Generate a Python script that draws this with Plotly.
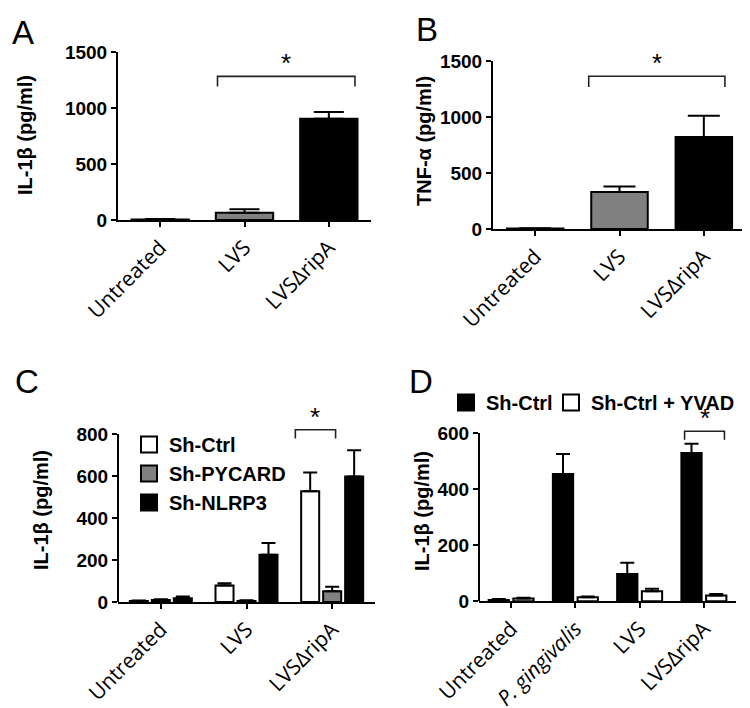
import plotly.graph_objects as go

W, H = 750, 708

# ---------------- data ----------------
cats_abc = ["Untreated", "LVS", "LVS\u0394ripA"]
cats_d = ["Untreated", "P. gingivalis", "LVS", "LVS\u0394ripA"]
ticktext_d = ["Untreated", "<i>P. gingivalis</i>", "LVS", "LVS\u0394ripA"]

a_vals = [5, 65, 905]
a_err = [3, 30, 60]
b_vals = [4, 330, 822]
b_err = [2, 50, 192]

c_ctrl = [5, 79, 527]
c_ctrl_err = [2, 10, 90]
c_pycard = [10, 5, 51]
c_pycard_err = [3, 3, 22]
c_nlrp3 = [18, 225, 598]
c_nlrp3_err = [8, 56, 125]

d_ctrl = [5, 454, 97, 529]
d_ctrl_err = [3, 71, 40, 33]
d_yvad = [10, 14, 36, 21]
d_yvad_err = [3, 3, 9, 5]

yticks_ab = [0, 500, 1000, 1500]
yticks_c = [0, 200, 400, 600, 800]
yticks_d = [0, 200, 400, 600]

# significance brackets: (x_start, x_end, top, leg_bottom) in category / data units
bracket_a = (0.68, 2.31, 1282, 1193)
bracket_b = (0.635, 2.25, 1366, 1270)
bracket_c = (1.57, 2.04, 820, 778)
bracket_d = (2.70, 3.32, 606, 576)

# ---------------- styles ----------------
GRAY = "#808080"
SANS = "Liberation Sans, Arial, sans-serif"
TICKFONT = dict(family=SANS, size=19, color="black")
XFONT = dict(family="Open Sans, sans-serif", size=21, color="black")
TITLEFONT = dict(family=SANS, size=20, color="black")
LEGFONT = dict(family=SANS, size=20, color="black")


def px_x(p):
    return p / W


def px_y(p):
    return 1 - p / H


fig = go.Figure()

bar_line = dict(color="black", width=2)

# Panel A
fig.add_trace(go.Bar(x=cats_abc, y=a_vals, width=0.68,
                     marker=dict(color=["white", GRAY, "black"], line=bar_line),
                     error_y=dict(type="data", array=a_err, arrayminus=[0] * 3, symmetric=False,
                                  color="black", thickness=2, width=15),
                     xaxis="x", yaxis="y", showlegend=False))
# Panel B
fig.add_trace(go.Bar(x=cats_abc, y=b_vals, width=0.67,
                     marker=dict(color=["white", GRAY, "black"], line=bar_line),
                     error_y=dict(type="data", array=b_err, arrayminus=[0] * 3, symmetric=False,
                                  color="black", thickness=2, width=16),
                     xaxis="x2", yaxis="y2", showlegend=False))

# Panel C
for name, vals, err, col in [("Sh-Ctrl", c_ctrl, c_ctrl_err, "white"),
                             ("Sh-PYCARD", c_pycard, c_pycard_err, GRAY),
                             ("Sh-NLRP3", c_nlrp3, c_nlrp3_err, "black")]:
    fig.add_trace(go.Bar(x=cats_abc, y=vals, name=name, offsetgroup=name,
                         marker=dict(color=col, line=bar_line),
                         error_y=dict(type="data", array=err, arrayminus=[0] * 3, symmetric=False,
                                      color="black", thickness=2, width=7),
                         xaxis="x3", yaxis="y3", showlegend=False, legendgroup="c" + name))
    fig.add_trace(go.Scatter(x=[None], y=[None], mode="markers", name=f"<b>{name}</b>",
                             marker=dict(symbol="square", size=16, color=col,
                                         line=dict(color="black", width=2)),
                             xaxis="x3", yaxis="y3", legend="legend", legendgroup="c" + name))

# Panel D
for name, vals, err, col, leg in [("Sh-Ctrl", d_ctrl, d_ctrl_err, "black", "legend2"),
                                  ("Sh-Ctrl + YVAD", d_yvad, d_yvad_err, "white", "legend3")]:
    fig.add_trace(go.Bar(x=cats_d, y=vals, name=name, offsetgroup=name,
                         marker=dict(color=col, line=bar_line),
                         error_y=dict(type="data", array=err, arrayminus=[0] * 4, symmetric=False,
                                      color="black", thickness=2, width=7),
                         xaxis="x4", yaxis="y4", showlegend=False, legendgroup="d" + name))
    fig.add_trace(go.Scatter(x=[None], y=[None], mode="markers", name=f"<b>{name}</b>",
                             marker=dict(symbol="square", size=16, color=col,
                                         line=dict(color="black", width=2)),
                             xaxis="x4", yaxis="y4", legend=leg, legendgroup="d" + name))


def xax(dom, cats, ticktext=None):
    d = dict(domain=[px_x(dom[0]), px_x(dom[1])], type="category",
             range=[-0.5, len(cats) - 0.5], showline=True, linecolor="black", linewidth=2,
             ticks="outside", ticklen=5, tickwidth=2, tickcolor="black",
             showgrid=False, zeroline=False, tickangle=-45, tickfont=XFONT,
             categoryorder="array", categoryarray=cats)
    if ticktext is not None:
        d["tickvals"] = cats
        d["ticktext"] = ticktext
    return d


def yax(bottom_px, top_px, rng, tickvals, anchor, showline=True):
    return dict(domain=[px_y(bottom_px), px_y(top_px)], range=rng, tickvals=tickvals,
                ticktext=[f"<b>{v}</b>" for v in tickvals],
                showline=showline, linecolor="black", linewidth=2,
                ticks="outside", ticklen=5, tickwidth=2, tickcolor="black",
                showgrid=False, zeroline=False, tickfont=TICKFONT, anchor=anchor)


def leg(xp, yp, orientation="v"):
    return dict(x=px_x(xp), y=px_y(yp), xanchor="left", yanchor="top", orientation=orientation,
                bgcolor="rgba(0,0,0,0)", borderwidth=0, tracegroupgap=0, font=LEGFONT)


# px per unit for C and D (to size domains)
c_ppu = (594 - 426) / 800
d_ppu = (593.3 - 425) / 600

fig.update_layout(
    width=W, height=H, autosize=False,
    margin=dict(l=0, r=0, t=0, b=0, pad=0, autoexpand=False),
    paper_bgcolor="white", plot_bgcolor="white",
    barmode="group",
    xaxis=xax((110, 363), cats_abc) | dict(anchor="y"),
    yaxis=yax(212, 44, [0, 1500], yticks_ab, "x"),
    xaxis2=xax((485, 738), cats_abc) | dict(anchor="y2"),
    yaxis2=yax(221, 53.3, [0, 1500], yticks_ab, "x2"),
    xaxis3=xax((110, 367), cats_abc) | dict(anchor="y3"),
    yaxis3=yax(594, 594 - 900 * c_ppu, [0, 900], yticks_c, "x3", showline=False),
    xaxis4=xax((471, 728), cats_d, ticktext_d) | dict(anchor="y4"),
    yaxis4=yax(593.3, 593.3 - 660 * d_ppu, [0, 660], yticks_d, "x4", showline=False),
    legend=leg(121, 417),
    legend2=leg(438, 375, "h"),
    legend3=leg(543, 375, "h"),
    bargap=0.23, bargroupgap=0.18,
)

shapes = []
# y axis lines for C and D (only up to the top tick)
shapes.append(dict(type="line", xref="x3 domain", yref="y3", x0=0, x1=0, y0=0, y1=800,
                   line=dict(color="black", width=2)))
shapes.append(dict(type="line", xref="x4 domain", yref="y4", x0=0, x1=0, y0=0, y1=600,
                   line=dict(color="black", width=2)))

annotations = []
for (x0, x1, top, bot), xr, yr in [(bracket_a, "x", "y"), (bracket_b, "x2", "y2"),
                                   (bracket_c, "x3", "y3"), (bracket_d, "x4", "y4")]:
    shapes.append(dict(type="path", xref=xr, yref=yr,
                       path=f"M {x0},{bot} L {x0},{top} L {x1},{top} L {x1},{bot}",
                       line=dict(color="#222222", width=1.6)))
    annotations.append(dict(x=(x0 + x1) / 2, y=top, xref=xr, yref=yr, text="*",
                            showarrow=False, yanchor="bottom", yshift=-4,
                            font=dict(family=SANS, size=26, color="black")))

# y-axis titles
for txt, xp, yp in [("IL-1\u03b2 (pg/ml)", 17, 127), ("TNF-\u03b1 (pg/ml)", 416, 133),
                    ("IL-1\u03b2 (pg/ml)", 33, 502), ("IL-1\u03b2 (pg/ml)", 414, 503)]:
    annotations.append(dict(x=px_x(xp), y=px_y(yp), xref="paper", yref="paper", text=f"<b>{txt}</b>",
                            textangle=-90, showarrow=False, xanchor="center", yanchor="middle",
                            font=TITLEFONT))

# panel letters
for txt, xp, yp in [("A", 2, 25), ("B", 406, 21), ("C", 5, 373), ("D", 399, 373)]:
    annotations.append(dict(x=px_x(xp), y=px_y(yp), xref="paper", yref="paper", text=txt,
                            showarrow=False, xanchor="left", yanchor="middle",
                            font=dict(family=SANS, size=33, color="black")))

fig.update_layout(shapes=shapes, annotations=annotations)

fig.write_html("out.html")
